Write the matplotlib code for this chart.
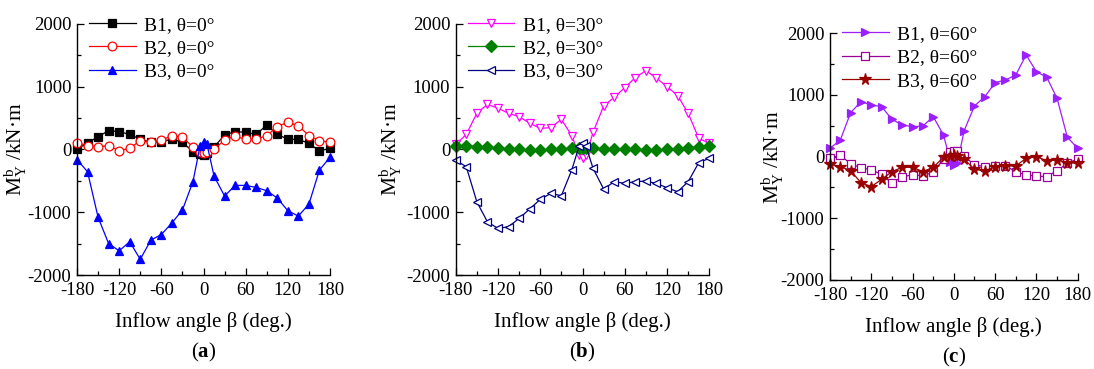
import matplotlib
matplotlib.use("Agg")
import matplotlib.pyplot as plt
from matplotlib.ticker import MultipleLocator

plt.rcParams['font.family'] = ['Liberation Serif', 'DejaVu Serif']
plt.rcParams['mathtext.fontset'] = 'custom'
plt.rcParams['mathtext.rm'] = 'Liberation Serif'
plt.rcParams['mathtext.it'] = 'Liberation Serif'
plt.rcParams['mathtext.bf'] = 'Liberation Serif:bold'
plt.rcParams['axes.unicode_minus'] = False

beta = [-180, -165, -150, -135, -120, -105, -90, -75, -60, -45, -30, -15, -5, 0, 5,
        15, 30, 45, 60, 75, 90, 105, 120, 135, 150, 165, 180]

# Panel (a) theta = 0
a_b1 = [10, 100, 205, 300, 285, 240, 165, 115, 125, 165, 115, -35, -70, -80, -60,
        40, 230, 285, 275, 240, 390, 240, 165, 160, 100, -25, 20]
a_b2 = [110, 60, 45, 60, -20, 20, 140, 115, 150, 220, 195, 40, -40, -50, -40,
        5, 150, 215, 160, 160, 220, 365, 433, 380, 220, 140, 115]
a_b3 = [-160, -355, -1080, -1500, -1615, -1470, -1750, -1445, -1355, -1170, -965, -513, 50, 120, 80,
        -423, -742, -572, -572, -605, -657, -774, -976, -1061, -870, -327, -125]

# Panel (b) theta = 30
b_b1 = [80, 240, 577, 720, 657, 577, 524, 418, 338, 348, 481, 215, -90, -140, -90,
        273, 694, 832, 986, 1146, 1258, 1136, 1003, 859, 577, 178, 98]
b_b2 = [60, 55, 45, 40, 25, 10, 0, -5, -5, 0, 5, 25, 30, 30, 30,
        20, 15, 15, 5, 5, -5, -5, 5, 15, 30, 45, 60]
b_b3 = [-170, -274, -833, -1152, -1258, -1231, -1098, -949, -795, -699, -737, -320, 50, 100, 50,
        -300, -630, -513, -540, -513, -503, -540, -609, -673, -513, -210, -141]

# Panel (c) theta = 60
c_b1 = [135, 270, 713, 892, 838, 811, 605, 514, 486, 497, 649, 351, -80, -130, -110,
        422, 822, 973, 1200, 1243, 1324, 1649, 1378, 1286, 946, 314, 135]
c_b2 = [-27, 27, -119, -178, -216, -286, -432, -324, -297, -308, -254, -40, 81, 95, 85,
        10, -135, -162, -151, -146, -243, -297, -313, -324, -227, -108, -38]
c_b3 = [-119, -162, -227, -422, -486, -368, -243, -173, -173, -243, -173, -11, 11, 27, 11,
        -40, -205, -232, -162, -151, -151, -27, 0, -65, -54, -97, -108]

xticks = [-180, -120, -60, 0, 60, 120, 180]
yticks = [-2000, -1000, 0, 1000, 2000]

W, H = 1094, 369
fig = plt.figure(figsize=(W / 100, H / 100), dpi=100)

panels = [
    dict(box=(77, 24, 330, 275), letter='a', ylab_x=29,
         series=[(a_b1, 'B1, θ=0°', 'black', 's', 'black'),
                 (a_b2, 'B2, θ=0°', 'red', 'o', 'white'),
                 (a_b3, 'B3, θ=0°', 'blue', '^', 'blue')]),
    dict(box=(455.7, 24, 709.3, 275), letter='b', ylab_x=404,
         series=[(b_b1, 'B1, θ=30°', '#ff00ff', 'v', 'white'),
                 (b_b2, 'B2, θ=30°', 'green', 'D', 'green'),
                 (b_b3, 'B3, θ=30°', 'navy', '<', 'white')]),
    dict(box=(830, 33.3, 1077.7, 280), letter='c', ylab_x=786,
         series=[(c_b1, 'B1, θ=60°', '#9b1fff', '>', '#9b1fff'),
                 (c_b2, 'B2, θ=60°', '#990099', 's', 'white'),
                 (c_b3, 'B3, θ=60°', '#990000', '*', '#990000')]),
]

for p in panels:
    x0, y0, x1, y1 = p['box']
    aw, ah = x1 - x0, y1 - y0
    ax = fig.add_axes([x0 / W, 1 - y1 / H, aw / W, ah / H])
    for vals, lab, col, mk, fc in p['series']:
        ms = 6.3
        if mk == '*':
            ms = 8.5
        if mk == 'D':
            ms = 5.8
        ax.plot(beta, vals, color=col, lw=0.9, marker=mk, ms=ms,
                markerfacecolor=fc, markeredgecolor=col, markeredgewidth=0.9,
                label=lab, clip_on=False)
    ax.set_xlim(-180, 180)
    ax.set_ylim(-2000, 2000)
    ax.set_xticks(xticks)
    ax.set_yticks(yticks)
    ax.xaxis.set_minor_locator(MultipleLocator(30))
    ax.yaxis.set_minor_locator(MultipleLocator(500))
    ax.tick_params(which='both', direction='in', labelsize=13.5, width=0.9)
    ax.tick_params(which='major', length=5)
    ax.tick_params(which='minor', length=3)
    ax.tick_params(axis='x', pad=5)
    ax.tick_params(axis='y', pad=4)
    for s in ['top', 'right']:
        ax.spines[s].set_visible(False)
    for s in ['left', 'bottom']:
        ax.spines[s].set_linewidth(1.0)
    ax.set_ylabel(r'M$_{\mathrm{Y}}^{\mathrm{b}}$ /kN·m', fontsize=15.5)
    ax.yaxis.set_label_coords((p['ylab_x'] - x0) / aw, 0.5)
    ax.text(0.5, -47 / ah, 'Inflow angle β (deg.)', transform=ax.transAxes,
            ha='center', va='center', fontsize=15)
    ax.text(0.5, -77 / ah, r'($\mathbf{%s}$)' % p['letter'], transform=ax.transAxes,
            ha='center', va='center', fontsize=15)
    ax.legend(loc='upper left', bbox_to_anchor=(12 / aw, 1 + 8 / ah), frameon=False,
              fontsize=14, handlelength=2.4, handletextpad=0.45,
              labelspacing=0.3, borderaxespad=0.0, borderpad=0.0)

fig.savefig('out.png', dpi=100)
